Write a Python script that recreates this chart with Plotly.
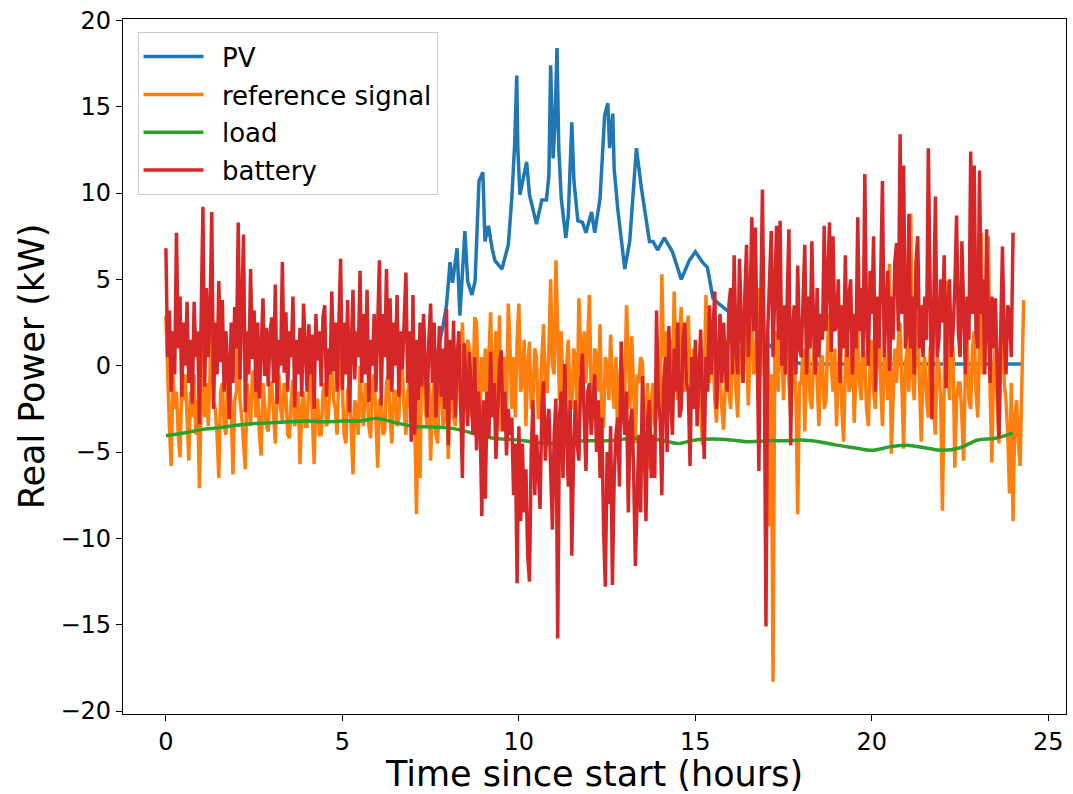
import numpy as np
import plotly.graph_objects as go

# ---------------- data ----------------
# battery and reference signal sampled every 0.05 h
battery_kw = [
    6.8, 0.5, 3.2, -1.5, 2.0, -0.5, 7.7, 1.0, 4.0, -1.8, 2.5, 0.0, 3.7, -1.0, 1.5, -2.2, 3.7, 0.5, 2.0, -3.4,
    3.0, 9.2, -1.2, 4.5, 0.5, 3.0, 8.9, -2.5, 2.5, -0.5, 4.9, 0.2, 3.8, -1.5, 2.0, 0.0, -3.1, 2.5, -1.0, 3.4,
    1.0, 8.3, -0.8, 3.0, 7.6, -2.7, 2.0, -0.5, 5.6, 0.4, 3.2, -1.5, 2.5, -1.9, 1.5, 3.9, -0.6, 2.2, -1.2, 1.8,
    2.8, -1.0, 4.7, -2.2, 1.5, 0.0, 6.0, -0.4, 3.1, -1.5, 2.0, 0.5, 4.0, -2.4, 1.5, -0.5, 2.2, -1.8, 3.6, 0.5,
    -1.5, 2.4, -0.5, 1.8, -2.5, 3.0, 0.3, 2.0, -1.2, 2.8, 3.5, -1.8, 1.0, -0.5, 4.3, -0.3, 2.5, -1.5, 3.0, 6.2,
    -1.4, 2.5, -0.5, 3.8, -2.7, 1.5, 4.4, -0.8, 2.0, 0.5, 5.5, -1.0, 3.0, -0.5, 4.4, -2.1, 1.5, 0.0, 3.0, -1.5,
    2.0, 6.1, -2.3, 3.0, 0.5, 5.6, -0.8, 3.9, -1.5, 2.5, 0.0, 4.1, -1.8, 2.0, -0.2, 3.0, 5.4, -1.0, 2.0, -4.4,
    4.1, -4.0, 1.5, -2.0, 2.5, -1.2, 3.0, 0.0, -3.0, 1.5, 3.6, -1.0, 2.5, -3.0, 0.5, 2.3, -1.8, 1.0, -2.5, 3.3,
    -4.6, 1.5, -2.0, 2.6, -3.0, 0.5, 2.0, -2.5, -6.5, 1.3, -1.0, -3.5, 0.8, -2.0, -4.0, 0.5, -4.9, -1.5, -3.0, -8.7,
    -2.0, -7.7, -1.5, -4.2, 0.8, -3.0, -1.0, -5.4, -2.0, 0.0, 0.9, -3.8, -1.5, -5.2, -2.5, -4.0, -3.0, -7.5, -4.5, -12.6,
    -3.5, -9.0, -4.5, -8.5, -6.0, -11.0, -12.5, -5.0, -2.0, -7.5, -4.0, -6.0, -8.3, -2.5, -0.9, -5.5, -3.5, -2.5, -6.5, -9.5,
    -4.0, -1.9, -15.8, -3.0, -1.5, -6.5, 0.1, -4.0, -7.0, -2.0, -11.0, -5.0, -2.0, -4.5, -5.5, -1.0, 0.7, -3.0, -6.1, -1.5,
    -1.0, -4.0, -2.5, -0.5, -5.0, -2.0, -6.5, -3.0, -9.5, -12.8, -5.0, -8.0, -3.5, -12.7, -6.5, -4.0, -3.0, -7.0, 1.4, -2.5,
    -4.0, -1.5, -8.5, -3.5, -2.5, -6.0, -11.6, -7.0, -4.0, -8.5, -0.6, -4.5, -9.0, -3.0, -2.0, -6.5, -4.0, -6.5, 3.2, -2.0,
    -3.0, -7.5, -1.0, 0.5, -5.0, 2.3, -2.0, -4.0, 1.0, -1.5, 2.5, -3.0, -2.5, 1.5, 2.5, -1.0, -1.5, -5.8, 0.5, -2.5,
    1.5, -3.5, 0.0, 2.1, -2.0, -5.4, 0.5, -1.5, 3.5, -0.5, 2.0, 4.3, -2.5, 1.0, 3.0, -1.0, 2.5, 0.0, -1.5, 3.5,
    4.5, -0.5, 6.4, 1.0, -0.5, 6.2, 2.0, -1.0, 4.0, 7.0, 0.5, 3.5, 8.6, 2.0, 8.0, 0.5, -6.1, 3.0, 10.2, 1.0,
    -15.1, 2.0, 5.5, 7.8, 0.5, 4.0, 8.1, 1.5, 8.4, 0.0, 3.5, -0.5, 5.0, 7.9, -4.6, 2.0, 3.5, -0.5, 5.8, 1.0,
    0.5, 3.5, 7.0, -0.5, 4.0, 1.0, 7.2, 2.0, -0.5, 4.5, 0.5, 3.0, 1.5, 8.1, 2.0, 5.0, 8.3, 0.8, 7.5, 2.0,
    2.5, 5.0, -1.0, 3.5, 1.0, 6.4, 0.5, 4.0, 5.0, -0.5, 3.0, 1.0, 8.6, 2.0, 4.5, 0.5, 11.1, 2.5, 0.0, 5.5,
    3.0, 7.5, -1.5, 4.0, 1.0, 5.0, 10.7, 0.5, 3.5, 5.5, -0.3, 4.0, 1.5, 6.0, 7.1, 2.0, 13.4, 3.0, 11.6, 1.0,
    2.0, 8.8, 1.0, 4.0, -0.5, 6.0, 7.5, 1.0, 3.5, 0.5, 4.0, 1.5, 12.6, 2.5, -3.1, 3.0, 9.8, 0.5, 1.5, 5.0,
    2.5, 6.4, -1.3, 3.5, 5.0, 0.5, 2.0, 4.5, 8.7, 2.0, 0.5, 7.2, 3.0, -0.5, 4.0, 1.5, 12.4, 3.0, 11.6, 2.0,
    1.0, 11.3, 3.0, 5.0, -0.5, 7.9, 2.5, -1.0, 4.0, 1.0, 3.9, 0.0, -4.2, 2.0, 6.9, 1.5, -0.5, 3.5, 3.0, 0.5,
    7.7,
]

reference_kw = [
    2.9, -1.0, -3.5, -5.8, -0.5, -2.5, -1.5, -4.0, -5.3, -1.0, -2.0, -0.5, -3.5, -5.5, -1.5, -3.0, -0.5, -4.0, -2.0, -7.1,
    -2.0, 1.6, -3.0, -1.0, -3.5, -0.5, 5.2, -2.0, -2.5, -4.0, -6.5, -1.5, -1.0, -3.5, -4.0, -0.5, -0.8, -2.5, -6.3, -2.0,
    -1.5, 3.6, -2.0, -3.0, -4.5, -6.0, -1.0, -2.5, -3.5, -0.5, -0.3, -3.0, -1.5, -4.0, -5.2, -1.0, -2.0, -3.5, -3.8, -1.0,
    -1.0, -3.0, -4.5, -1.5, -0.5, -2.5, -3.2, -1.0, -1.5, -4.0, -4.2, -2.0, -0.8, -3.5, -3.0, -1.5, -5.7, -2.5, -1.5, -3.5,
    -3.5, -1.0, -0.5, -3.0, -5.7, -2.0, -2.0, -4.0, -4.0, -1.5, -1.0, -3.5, -3.0, -1.0, 1.0, -2.0, -2.5, -4.0, -0.5, 1.2,
    -2.0, -4.0, -4.5, -1.5, -1.0, -3.5, -6.3, -2.0, -2.5, -4.0, 0.0, -2.5, -3.5, -1.0, -1.5, -3.5, -4.2, -1.0, -0.5, -3.0,
    -5.9, -2.0, -2.0, -4.0, -3.8, -1.0, -0.5, -3.0, -4.5, -1.5, -1.5, -3.5, -3.0, -0.5, -0.2, -2.5, -4.0, -1.5, -1.0, -3.0,
    1.9, -3.0, -8.6, -2.0, -6.5, 1.0, 1.5, -2.5, -3.5, -1.0, -5.5, -2.0, -1.0, -4.0, -4.5, -0.5, -0.5, -3.5, -3.0, 0.0,
    -5.4, -1.5, -1.0, -3.0, -3.5, 0.0, 0.5, -2.5, 2.5, -1.0, -2.5, 1.5, 1.0, -3.0, -1.5, 2.8, 2.5, -1.0, -3.0, 0.5,
    -1.5, 1.0, -3.5, 0.5, 3.1, -2.0, -0.5, 2.0, -2.5, 2.9, -3.8, 0.0, 0.5, -2.5, 3.6, 1.0, -2.5, 0.5, -3.0, 1.5,
    3.6, -1.5, -1.0, 1.5, -3.5, 0.0, 1.4, -2.5, -2.0, 1.0, 0.5, -3.0, -3.0, 0.5, 2.4, -1.5, -1.5, 1.0, 5.0, 0.0,
    -0.5, 6.1, 2.0, -2.0, 2.0, -1.0, -4.5, 0.0, 1.5, -2.0, -2.5, 1.0, 0.5, -3.0, 3.9, 1.0, -1.5, 2.0, -1.0, 1.5,
    4.1, -2.0, -2.0, 1.0, 0.5, -1.5, 2.4, -3.5, -3.5, 0.5, 0.0, -2.0, 1.8, -1.0, -2.5, 0.5, -4.0, -1.0, 0.5, -2.5,
    -1.5, 3.5, 0.5, -2.5, 1.7, -1.0, -4.5, -0.5, -1.0, 0.5, 0.2, -3.0, -3.5, -1.0, -6.0, -2.0, -1.0, -3.5, -3.0, 0.5,
    -3.0, 5.3, 0.5, 2.0, -2.5, 1.0, 1.5, -1.5, 4.3, 0.5, -2.0, 1.5, 3.4, -1.0, -1.5, 2.0, 2.9, -1.0, -2.5, 1.0,
    -2.5, 0.5, 0.5, -2.0, -4.6, -1.0, 4.1, 0.0, -1.0, 1.5, 1.0, -2.0, -3.3, 0.5, -0.5, -2.5, -3.7, -1.0, 1.5, -1.5,
    -2.5, 0.5, 2.0, -1.5, -3.0, 1.0, 0.5, -1.0, 3.0, 1.5, -2.3, 1.0, 3.9, -0.5, 0.0, 2.0, 4.5, 0.5, 5.2, -0.5,
    -1.0, 2.0, -9.3, -0.5, -18.3, 1.0, 2.0, -1.5, 4.5, 0.5, -2.0, 1.0, 1.5, -1.0, -3.0, 0.0, 0.5, -2.0, -8.6, -1.0,
    -1.0, 1.0, -3.8, 0.0, 1.5, -2.0, -2.5, 0.5, 2.5, -1.0, -3.5, 0.5, 0.5, -2.5, -2.0, 1.5, 3.0, 0.0, -1.5, 1.0,
    -3.5, -0.5, 1.0, -2.5, -4.4, 0.0, 2.0, -1.5, -1.0, 1.5, -3.3, -0.5, 2.5, -1.0, -2.0, 1.0, 0.5, -2.5, -3.5, 0.0,
    1.5, -1.5, -2.5, 1.0, 3.0, -1.0, -3.5, 0.5, 0.5, -2.0, 5.9, -5.1, -1.5, 1.0, -1.0, 1.5, 2.5, -1.5, -4.8, 0.0,
    1.0, -1.5, 8.8, -0.5, -2.0, 1.5, 2.9, -1.0, -4.4, 0.0, 0.5, -2.0, -3.0, 1.0, 1.5, -2.5, -4.0, 0.5, 0.0, -2.0,
    -8.4, -1.0, 4.9, 0.0, -2.0, 1.5, 1.0, -5.9, -2.0, -1.0, -1.0, -3.0, -5.5, 0.0, 1.5, -2.0, -2.5, 1.0, 2.0, -1.5,
    -3.0, 1.0, 7.7, -0.5, 0.5, 2.5, 7.5, -1.5, -5.6, 0.0, 1.0, -2.0, -4.5, 0.5, 3.8, -1.0, -2.0, -4.0, -7.4, -1.0,
    -9.0, -3.0, -2.0, -4.5, -5.8, -1.0, 3.8,
]

# load sampled every 0.5 h
load_kw = [
    -4.05, -3.9, -3.7, -3.6, -3.45, -3.35, -3.3, -3.25, -3.2, -3.25,
    -3.2, -3.2, -3.05, -3.3, -3.5, -3.55, -3.6, -3.8, -4.1, -4.25,
    -4.3, -4.45, -4.5, -4.4, -4.35, -4.35, -4.25, -4.2, -4.3, -4.5,
    -4.3, -4.25, -4.3, -4.4, -4.35, -4.35, -4.3, -4.4, -4.6, -4.75,
    -4.9, -4.7, -4.6, -4.75, -4.9, -4.75, -4.3, -4.2, -3.9,
]

# PV at irregular times (hours)
pv_hours = [
    7.6, 7.7, 7.85, 7.95, 8.05, 8.12, 8.25, 8.33, 8.47, 8.55, 8.67, 8.76,
    8.87, 8.98, 9.04, 9.14, 9.24, 9.32, 9.52, 9.7, 9.8, 9.88, 9.94, 9.97,
    10.03, 10.12, 10.22, 10.3, 10.5, 10.65, 10.78, 10.85, 10.9, 10.97,
    11.02, 11.08, 11.13, 11.2, 11.33, 11.4, 11.5, 11.56, 11.67, 11.8,
    11.9, 12.06, 12.15, 12.3, 12.43, 12.52, 12.57, 12.66, 12.7, 12.8,
    13.0, 13.14, 13.33, 13.47, 13.7, 13.8, 13.93, 14.12, 14.35, 14.6,
    14.75, 14.83, 15.0, 15.2, 15.34, 15.5, 15.6, 15.96, 16.3, 16.7,
    17.1, 17.45, 18.0, 24.3,
]
pv_kw = [
    0.0, 0.8, 2.3, 3.5, 6.0, 4.8, 6.8, 2.9, 7.8, 4.9, 4.1, 4.9,
    10.7, 11.2, 7.2, 8.1, 6.8, 6.1, 5.6, 7.0, 9.7, 12.8, 16.8, 12.6,
    9.9, 10.7, 11.8, 9.9, 8.2, 9.6, 9.6, 11.0, 17.4, 12.0,
    13.9, 18.4, 12.6, 9.7, 7.4, 8.7, 14.1, 10.7, 8.4, 8.3,
    7.7, 8.9, 7.7, 9.7, 14.5, 15.2, 12.6, 14.6, 11.4, 9.1,
    5.6, 7.2, 12.6, 10.3, 7.2, 7.2, 6.7, 7.4, 6.6, 5.0,
    5.8, 6.1, 6.6, 6.0, 5.7, 3.9, 3.7, 3.1, 2.0, 1.2,
    1.2, 0.5, 0.1, 0.1,
]

battery_hours = np.round(np.arange(len(battery_kw)) * 0.05, 3)
reference_hours = np.round(np.arange(len(reference_kw)) * 0.05, 3)
load_hours = np.arange(len(load_kw)) * 0.5

x_ticks = [0, 5, 10, 15, 20, 25]
y_ticks = [-20, -15, -10, -5, 0, 5, 10, 15, 20]

# ---------------- figure ----------------
FONT = "DejaVu Sans"
LW = 3.5
PAD = "\u00a0\u2009"  # small gap between legend line sample and label

fig = go.Figure()
fig.add_trace(go.Scatter(x=pv_hours, y=pv_kw, mode="lines", name=PAD + "PV",
                         line=dict(color="#1f77b4", width=LW), legendgroup="a"))
fig.add_trace(go.Scatter(x=reference_hours, y=reference_kw, mode="lines",
                         name=PAD + "reference signal",
                         line=dict(color="#ff7f0e", width=LW), legendgroup="b"))
fig.add_trace(go.Scatter(x=load_hours, y=load_kw, mode="lines", name=PAD + "load",
                         line=dict(color="#2ca02c", width=LW, shape="spline"),
                         legendgroup="c"))
fig.add_trace(go.Scatter(x=battery_hours, y=battery_kw, mode="lines",
                         name=PAD + "battery",
                         line=dict(color="#d62728", width=LW), legendgroup="d"))

axis_common = dict(
    showline=True, linecolor="black", linewidth=1.3, mirror=True,
    ticks="outside", ticklen=6, tickwidth=1.3, tickcolor="black",
    showgrid=False, zeroline=False,
    tickfont=dict(family=FONT, size=24, color="black"),
)

fig.update_layout(
    width=1073, height=794,
    margin=dict(l=123, r=7, t=19, b=80),
    paper_bgcolor="white", plot_bgcolor="white",
    font=dict(family=FONT, color="black"),
    showlegend=True,
    legend=dict(
        x=0.0154, y=0.981, xanchor="left", yanchor="top",
        bgcolor="rgba(255,255,255,0.8)", bordercolor="#cccccc", borderwidth=1,
        font=dict(family=FONT, size=26, color="black"),
        tracegroupgap=1, itemwidth=60,
    ),
    xaxis=dict(range=[-1.215, 25.5], tickvals=x_ticks,
               title=dict(text="Time since start (hours)",
                          font=dict(family=FONT, size=35), standoff=8),
               **axis_common),
    yaxis=dict(range=[-20.17, 20.08], tickvals=y_ticks,
               title=dict(text="Real Power (kW)",
                          font=dict(family=FONT, size=35), standoff=5),
               **axis_common),
)

fig.write_html("out.html")
